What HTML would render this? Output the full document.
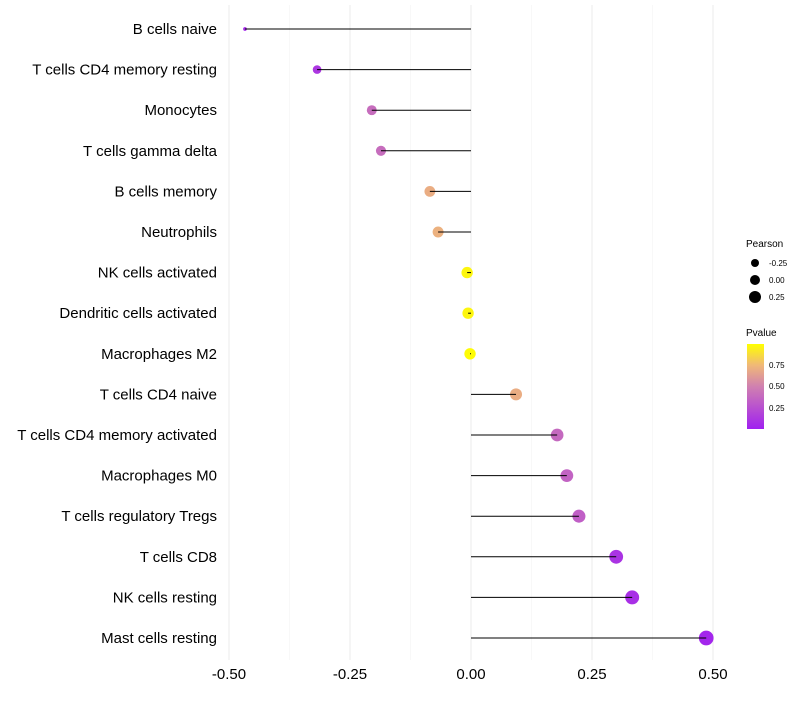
<!DOCTYPE html>
<html><head><meta charset="utf-8"><style>
body{margin:0;background:#fff;font-family:"Liberation Sans",sans-serif}
</style></head><body>
<svg id="chart" width="800" height="700" xmlns="http://www.w3.org/2000/svg">
<defs><linearGradient id="pg" x1="0" y1="1" x2="0" y2="0">
<stop offset="0" stop-color="#A020F0"/><stop offset="0.5" stop-color="#D080B0"/><stop offset="0.75" stop-color="#F0B878"/><stop offset="1" stop-color="#FFFF00"/></linearGradient></defs>
<g id="grid"></g><g id="marks"></g><g id="stems"></g><g id="axes"></g>
<g font-size="9">
<text x="746" y="247" font-size="10" fill="#000">Pearson</text>
<circle cx="755" cy="263" r="4" fill="#000"/><text x="769" y="266" font-size="8">-0.25</text>
<circle cx="755" cy="280" r="5" fill="#000"/><text x="769" y="283" font-size="8">0.00</text>
<circle cx="755" cy="297" r="6" fill="#000"/><text x="769" y="300" font-size="8">0.25</text>
<text x="746" y="336" font-size="10" fill="#000">Pvalue</text>
<rect x="747" y="344" width="17" height="85" fill="url(#pg)"/>
<text x="769" y="368" font-size="8">0.75</text><text x="769" y="389" font-size="8">0.50</text><text x="769" y="411" font-size="8">0.25</text>
</g>
</svg>
<script>
const categories=["B cells naive","T cells CD4 memory resting","Monocytes","T cells gamma delta","B cells memory","Neutrophils","NK cells activated","Dendritic cells activated","Macrophages M2","T cells CD4 naive","T cells CD4 memory activated","Macrophages M0","T cells regulatory  Tregs ","T cells CD8","NK cells resting","Mast cells resting"];
const pearson=[-0.467,-0.318,-0.205,-0.186,-0.085,-0.068,-0.008,-0.006,-0.002,0.093,0.178,0.198,0.223,0.300,0.333,0.486];
const pvalue=[0.05,0.12,0.4,0.4,0.7,0.72,0.97,0.97,0.99,0.7,0.38,0.35,0.33,0.1,0.08,0.03];
const xTicks=[-0.5,-0.25,0,0.25,0.5];
const xTickLabels=["-0.50","-0.25","0.00","0.25","0.50"];
const NS="http://www.w3.org/2000/svg";
const x=v=>471+v*484;
const y=i=>29+i*40.6;
const rStops=[[-0.47,1.8],[-0.32,4.3],[-0.2,5],[0,5.7],[0.2,6.4],[0.3,6.9],[0.5,7.4]];
function rad(v){if(v<=rStops[0][0])return rStops[0][1];for(let k=1;k<rStops.length;k++){if(v<=rStops[k][0]){const t=(v-rStops[k-1][0])/(rStops[k][0]-rStops[k-1][0]);return rStops[k-1][1]+t*(rStops[k][1]-rStops[k-1][1]);}}return 7.4;}
function lerp(a,b,t){return a.map((c,i)=>Math.round(c+(b[i]-c)*t));}
function col(p){const s=[[0,[160,32,240]],[0.5,[208,128,176]],[0.75,[240,184,120]],[1,[255,255,0]]];
for(let k=1;k<s.length;k++){if(p<=s[k][0]){const t=(p-s[k-1][0])/(s[k][0]-s[k-1][0]);const c=lerp(s[k-1][1],s[k][1],t);return `rgb(${c})`;}}return "rgb(255,255,0)";}
function mk(t,a,p){const e=document.createElementNS(NS,t);for(const k in a)e.setAttribute(k,a[k]);p.appendChild(e);return e;}
const grid=document.getElementById('grid'),marks=document.getElementById('marks'),stems=document.getElementById('stems'),axes=document.getElementById('axes');
for(let k=0;k<xTicks.length;k++){
 const g=mk('line',{x1:x(xTicks[k]),x2:x(xTicks[k]),y1:5,y2:660,stroke:'#eeeeee','stroke-width':1.2},grid);
 
 
 if(k<xTicks.length-1){const m=mk('line',{x1:x((xTicks[k]+xTicks[k+1])/2),x2:x((xTicks[k]+xTicks[k+1])/2),y1:5,y2:660,stroke:'#f5f5f5','stroke-width':0.7},grid);
 
 }
 const t=mk('text',{x:x(xTicks[k]),y:679,'text-anchor':'middle','font-size':15,fill:'#000'},axes);t.textContent=xTickLabels[k];
 
 
}
categories.forEach((c,i)=>{
 const t=mk('text',{x:217,y:y(i)+5,'text-anchor':'end','font-size':15,fill:'#000'},axes);t.textContent=c;
 
 
 const d=mk('circle',{cx:x(pearson[i]),cy:y(i),r:rad(pearson[i]),fill:col(pvalue[i])},marks);
 
 
 const l=mk('line',{x1:x(0),x2:x(pearson[i]),y1:y(i),y2:y(i),stroke:'#000','stroke-width':1},stems);
 
 
});
</script>
</body></html>
